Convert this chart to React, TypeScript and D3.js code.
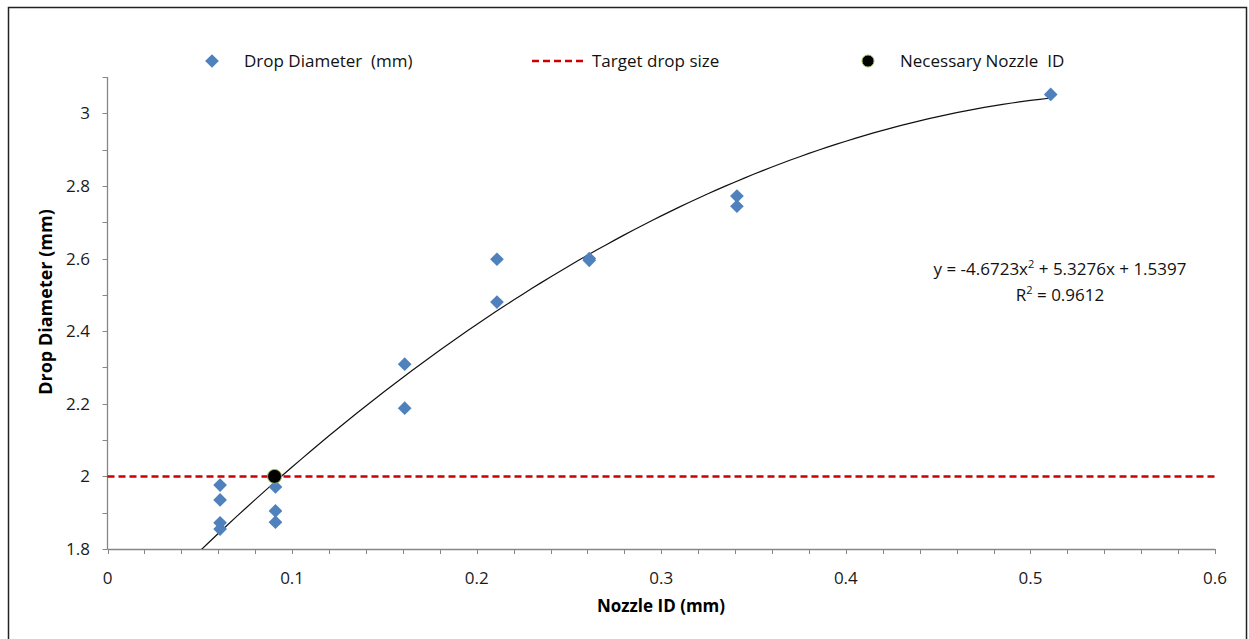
import React, { useEffect, useRef } from 'react';
import * as d3 from 'd3';

// Nozzle ID (mm) and measured drop diameter (mm)
const nozzleIds = [0.061, 0.061, 0.061, 0.061, 0.091, 0.091, 0.091, 0.161, 0.161, 0.211, 0.211, 0.261, 0.261, 0.341, 0.341, 0.511];
const dropDiameters = [1.976, 1.935, 1.872, 1.855, 1.971, 1.905, 1.874, 2.309, 2.188, 2.598, 2.48, 2.6, 2.595, 2.772, 2.744, 3.052];
// polynomial trendline coefficients (a x^2 + b x + c)
const trendCoef = [-4.6723, 5.3276, 1.5397];
const targetSize = 2.0;
const necessaryPoint = [0.0905, 2.0];
const xTicks = [0, 0.1, 0.2, 0.3, 0.4, 0.5, 0.6];
const yTicks = [1.8, 2, 2.2, 2.4, 2.6, 2.8, 3];

const W = 1249;
const H = 639;
const font = '"Open Sans", "Noto Sans", sans-serif';
const fs = 17;

export default function App() {
  const ref = useRef<SVGSVGElement>(null);

  useEffect(() => {
    const svg = d3.select(ref.current);
    svg.selectAll('*').remove();

    const x = d3.scaleLinear().domain([0, 0.6]).range([107.5, 1215]);
    const y = d3.scaleLinear().domain([1.8, 3.1]).range([549, 77]);

    // outer frame
    svg.append('rect')
      .attr('x', 8.5).attr('y', 7.5)
      .attr('width', 1238).attr('height', 650)
      .attr('fill', 'white').attr('stroke', '#222').attr('stroke-width', 1.5);

    svg.append('clipPath').attr('id', 'plot')
      .append('rect').attr('x', 108).attr('y', 77).attr('width', 1107).attr('height', 472);

    // axes
    const axisColor = '#868686';
    const xMinor = d3.range(0, 0.6001, 0.02);
    const yMinor = d3.range(1.8, 3.1001, 0.1);

    svg.append('line')
      .attr('x1', x(0)).attr('x2', x(0.6)).attr('y1', y(1.8) + 0.5).attr('y2', y(1.8) + 0.5)
      .attr('stroke', axisColor).attr('stroke-width', 1.3);
    svg.append('line')
      .attr('x1', x(0)).attr('x2', x(0)).attr('y1', y(3.1)).attr('y2', y(1.8))
      .attr('stroke', axisColor).attr('stroke-width', 1.3);

    svg.append('g').selectAll('line').data(xMinor).join('line')
      .attr('x1', d => Math.round(x(d)) + 0.5).attr('x2', d => Math.round(x(d)) + 0.5)
      .attr('y1', y(1.8)).attr('y2', y(1.8) + 5)
      .attr('stroke', axisColor);
    svg.append('g').selectAll('line').data(yMinor).join('line')
      .attr('x1', x(0) - 5).attr('x2', x(0))
      .attr('y1', d => Math.round(y(d)) + 0.5).attr('y2', d => Math.round(y(d)) + 0.5)
      .attr('stroke', axisColor);

    svg.append('g').selectAll('text').data(xTicks).join('text')
      .attr('x', d => x(d)).attr('y', 584)
      .attr('text-anchor', 'middle')
      .attr('font-family', font).attr('font-size', fs).attr('fill', '#1a1a1a')
      .text(d => d3.format('')(d));
    svg.append('g').selectAll('text').data(yTicks).join('text')
      .attr('x', 90).attr('y', d => y(d) + 6)
      .attr('text-anchor', 'end')
      .attr('font-family', font).attr('font-size', fs).attr('fill', '#1a1a1a')
      .text(d => d3.format('')(d));

    // axis titles
    svg.append('text')
      .attr('x', 661).attr('y', 612)
      .attr('text-anchor', 'middle')
      .attr('font-family', font).attr('font-size', fs).attr('font-weight', 'bold')
      .text('Nozzle ID (mm)');
    svg.append('text')
      .attr('transform', 'translate(52,302) rotate(-90)')
      .attr('text-anchor', 'middle')
      .attr('font-family', font).attr('font-size', fs + 1).attr('font-weight', 'bold')
      .text('Drop Diameter (mm)');

    // target line
    svg.append('line')
      .attr('x1', x(0)).attr('x2', x(0.6)).attr('y1', y(targetSize)).attr('y2', y(targetSize))
      .attr('stroke', '#cc0000').attr('stroke-width', 2.5).attr('stroke-dasharray', '7,4');

    // trendline
    const [a, b, c] = trendCoef;
    const xs = d3.range(0.04, 0.5111, 0.005);
    const line = d3.line<number>().x(d => x(d)).y(d => y(a * d * d + b * d + c));
    svg.append('path')
      .attr('d', line(xs))
      .attr('clip-path', 'url(#plot)')
      .attr('fill', 'none').attr('stroke', '#111').attr('stroke-width', 1.2);

    // data points
    const diamond = d3.symbol().type(d3.symbolDiamond2).size(120);
    svg.append('g').selectAll('path').data(nozzleIds).join('path')
      .attr('transform', (d, i) => `translate(${x(d)},${y(dropDiameters[i])})`)
      .attr('d', diamond())
      .attr('fill', '#4f81bd');

    // necessary nozzle point
    svg.append('circle')
      .attr('cx', x(necessaryPoint[0])).attr('cy', y(necessaryPoint[1])).attr('r', 7)
      .attr('fill', '#000').attr('stroke', '#9bbb59').attr('stroke-width', 1);

    // equation
    const eq = svg.append('text')
      .attr('x', 1060).attr('y', 275)
      .attr('text-anchor', 'middle')
      .attr('font-family', font).attr('font-size', fs).attr('fill', '#111');
    eq.append('tspan').text('y = -4.6723x');
    eq.append('tspan').attr('font-size', 11).attr('dy', -7).text('2');
    eq.append('tspan').attr('dy', 7).text(' + 5.3276x + 1.5397');
    const r2 = svg.append('text')
      .attr('x', 1060).attr('y', 301)
      .attr('text-anchor', 'middle')
      .attr('font-family', font).attr('font-size', fs).attr('fill', '#111');
    r2.append('tspan').text('R');
    r2.append('tspan').attr('font-size', 11).attr('dy', -7).text('2');
    r2.append('tspan').attr('dy', 7).text(' = 0.9612');

    // legend
    const lg = svg.append('g');
    lg.append('path')
      .attr('transform', 'translate(212,61)')
      .attr('d', diamond())
      .attr('fill', '#4f81bd');
    lg.append('text').attr('x', 244).attr('y', 67)
      .attr('font-family', font).attr('font-size', fs).attr('fill', '#111')
      .text('Drop Diameter\u00a0 (mm)');
    lg.append('line')
      .attr('x1', 532).attr('x2', 586).attr('y1', 61).attr('y2', 61)
      .attr('stroke', '#cc0000').attr('stroke-width', 2.5).attr('stroke-dasharray', '7,4');
    lg.append('text').attr('x', 592).attr('y', 67)
      .attr('font-family', font).attr('font-size', fs).attr('fill', '#111')
      .text('Target drop size');
    lg.append('circle')
      .attr('cx', 868).attr('cy', 61).attr('r', 6)
      .attr('fill', '#000').attr('stroke', '#9bbb59').attr('stroke-width', 1);
    lg.append('text').attr('x', 900).attr('y', 67)
      .attr('font-family', font).attr('font-size', fs).attr('fill', '#111')
      .text('Necessary Nozzle\u00a0 ID');
  }, []);

  return (
    <svg
      ref={ref}
      width={W}
      height={H}
      style={{ position: 'absolute', left: 0, top: 0, background: 'white' }}
    />
  );
}
